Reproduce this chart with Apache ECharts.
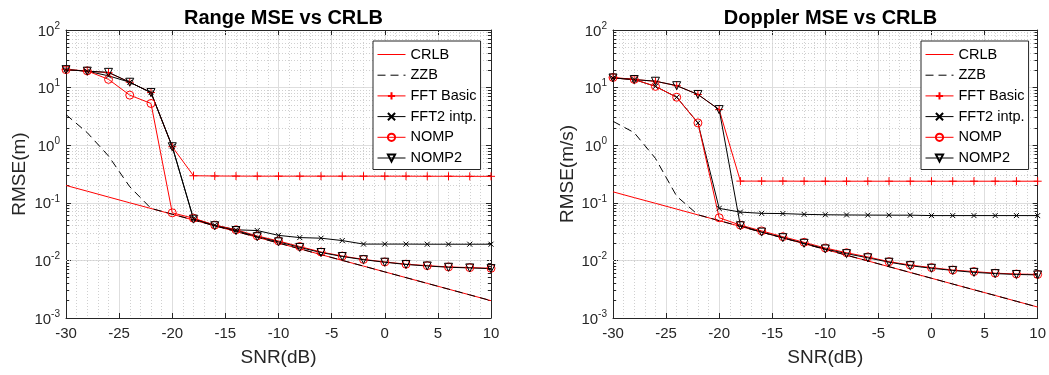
<!DOCTYPE html>
<html>
<head>
<meta charset="utf-8">
<script src="https://cdn.jsdelivr.net/npm/echarts@6/dist/echarts.min.js"></script>
<style>html,body{margin:0;padding:0;background:#fff}#c{width:1049px;height:375px}</style>
</head>
<body>
<div id="c"></div>
<script>
// ---------- data ----------
const snr = [-30,-28,-26,-24,-22,-20,-18,-16,-14,-12,-10,-8,-6,-4,-2,0,2,4,6,8,10];
const seriesNames = ['CRLB','ZZB','FFT Basic','FFT2 intp.','NOMP','NOMP2'];
const titles = ['Range MSE vs CRLB','Doppler MSE vs CRLB'];
const yNames = ['RMSE(m)','RMSE(m/s)'];
const xName = 'SNR(dB)';
const xTicks = [-30,-25,-20,-15,-10,-5,0,5,10];
const yTickExp = [-3,-2,-1,0,1,2];
const yMinorGrid = [0.002,0.003,0.004,0.005,0.006,0.007,0.008,0.009,
  0.02,0.03,0.04,0.05,0.06,0.07,0.08,0.09,
  0.2,0.3,0.4,0.5,0.6,0.7,0.8,0.9,
  2,3,4,5,6,7,8,9,
  20,30,40,50,60,70,80,90];

// Range (m)
const rangeCRLB  = [0.2,0.159,0.126,0.1,0.0796,0.0632,0.0502,0.0399,0.0317,0.0252,0.02,0.0159,0.0126,0.01,0.00796,0.00632,0.00502,0.00399,0.00317,0.00252,0.002];
const rangeZZB   = [3.4,1.65,0.65,0.19,0.08,0.0635,0.0503,0.04,0.0318,0.0252,0.02,0.0159,0.0126,0.01,0.00796,0.00632,0.00502,0.00399,0.00317,0.00252,0.002];
const rangeFFT   = [20.5,19.3,18.2,12.4,8.2,0.94,0.295,0.292,0.291,0.29,0.29,0.29,0.29,0.29,0.29,0.29,0.29,0.289,0.289,0.288,0.288];
const rangeFFT2  = [20.5,19.3,16,12.4,8.2,0.95,0.053,0.041,0.034,0.033,0.0272,0.0249,0.0243,0.0221,0.0192,0.0192,0.0192,0.0191,0.0191,0.0191,0.0191];
const rangeNOMP  = [20.5,19.5,13.9,7.4,5.3,0.067,0.054,0.041,0.034,0.0266,0.0217,0.0174,0.014,0.0119,0.0104,0.0094,0.0086,0.0081,0.0077,0.0075,0.0073];
const rangeNOMP2 = [20.5,19.3,18.4,12.4,8.2,0.94,0.052,0.040,0.033,0.0258,0.021,0.0168,0.0137,0.0117,0.0103,0.0093,0.0085,0.008,0.0076,0.0074,0.0072];

// Doppler (m/s)
const dopCRLB  = [0.155,0.123,0.098,0.0777,0.0617,0.049,0.0389,0.0309,0.0246,0.0195,0.0155,0.0123,0.0098,0.00777,0.00617,0.0049,0.00389,0.00309,0.00246,0.00195,0.00155];
const dopZZB   = [2.6,1.65,0.59,0.13,0.062,0.049,0.0389,0.0309,0.0246,0.0195,0.0155,0.0123,0.0098,0.00777,0.00617,0.0049,0.00389,0.00309,0.00246,0.00195,0.00155];
const dopFFT   = [14.7,13.8,12.9,10.8,7.6,4.15,0.238,0.238,0.238,0.237,0.237,0.237,0.237,0.237,0.237,0.237,0.237,0.237,0.237,0.237,0.237];
const dopFFT2  = [14.7,13.8,10.5,6.8,2.44,0.08,0.069,0.0656,0.065,0.063,0.062,0.0615,0.0612,0.061,0.061,0.06,0.06,0.06,0.06,0.06,0.06];
const dopNOMP  = [15,13.9,10.5,6.8,2.44,0.055,0.041,0.0325,0.0258,0.0206,0.0164,0.0136,0.0115,0.0095,0.0083,0.0075,0.0068,0.0064,0.006,0.0058,0.0057];
const dopNOMP2 = [14.7,13.8,12.9,10.8,7.6,4.15,0.040,0.031,0.0248,0.0198,0.0158,0.0131,0.0111,0.0093,0.0081,0.0073,0.0067,0.0062,0.0059,0.0057,0.0056];

// ---------- styling ----------
const FONT = '"Liberation Sans", Arial, Helvetica, sans-serif';
const AX = '#262626';
const RED = '#ff0000';
const BLK = '#000000';
const grids = [{left:66, top:30, width:425, height:288},{left:613, top:30, width:425, height:288}];
const legendPos = [{left:373, top:41},{left:921, top:41}];
const yNameGap = [37, 35.5];

const pair = (ys) => snr.map((x,i)=>[x, ys[i]]);

const option = {
  animation: false,
  backgroundColor: '#fff',
  textStyle: {fontFamily: FONT},
  title: [], grid: grids, xAxis: [], yAxis: [], legend: [], series: []
};

const markerPlus = 'path://M5,0L5,10M0,5L10,5';
const markerX = 'path://M0,0L10,10M10,0L0,10';

[0,1].forEach(g => {
  option.title.push({
    text: titles[g], left: grids[g].left + grids[g].width/2, top: 3, textAlign: 'center',
    textStyle: {fontFamily: FONT, fontSize: 20, fontWeight: 'bold', color: '#000'}
  });
  const xBase = {
    type: 'value', min: -30, max: 10, interval: 5, gridIndex: g,
    axisLine: {show: true, onZero: false, lineStyle: {color: AX, width: 1}},
    axisTick: {show: true, inside: true, length: 5, lineStyle: {color: AX}},
    minorTick: {show: false, splitNumber: 5},
  };
  option.xAxis.push(Object.assign({}, xBase, {
    position: 'bottom',
    name: xName, nameLocation: 'middle', nameGap: 30,
    nameTextStyle: {fontFamily: FONT, fontSize: 19, color: AX},
    axisLabel: {margin: 8, fontFamily: FONT, fontSize: 15, color: AX},
    splitLine: {show: true, lineStyle: {color: '#dedede', width: 1}},
    minorSplitLine: {show: true, lineStyle: {color: '#d0d0d0', width: 1, type: [1,2]}},
  }));
  option.xAxis.push(Object.assign({}, xBase, {
    position: 'top', axisLabel: {show: false}, splitLine: {show: false}
  }));
  const yBase = {
    type: 'log', logBase: 10, min: 0.001, max: 100, gridIndex: g,
    axisLine: {show: true, onZero: false, lineStyle: {color: AX, width: 1}},
    axisTick: {show: true, inside: true, length: 5, lineStyle: {color: AX}},
  };
  option.yAxis.push(Object.assign({}, yBase, {
    position: 'left',
    name: yNames[g], nameLocation: 'middle', nameGap: yNameGap[g],
    nameTextStyle: {fontFamily: FONT, fontSize: 19, color: AX},
    axisLabel: {
      margin: 6, fontFamily: FONT, color: AX,
      formatter: v => {
        const e = Math.round(Math.log10(v));
        return '{b|10}{s|' + e + '}';
      },
      rich: {
        b: {fontFamily: FONT, fontSize: 15, color: AX, verticalAlign: 'bottom', lineHeight: 18, padding: [6,0,0,0]},
        s: {fontFamily: FONT, fontSize: 10, color: AX, verticalAlign: 'top', lineHeight: 10}
      }
    },
    splitLine: {show: true, lineStyle: {color: '#dedede', width: 1}},
  }));
  option.yAxis.push(Object.assign({}, yBase, {
    position: 'right', axisLabel: {show: false}, splitLine: {show: false}
  }));

  const xi = g*2, yi = g*2;
  // minor grid + minor ticks (library-scaled from tick value arrays)
  const mlData = yMinorGrid.map(v => ({yAxis: v}));
  const mtData = [];
  yMinorGrid.forEach(v => {
    mtData.push([{coord:[-30, v]},{coord:[-29.7, v]}]);
    mtData.push([{coord:[9.7, v]},{coord:[10, v]}]);
  });
  option.series.push({
    type: 'line', name: '_grid' + g, xAxisIndex: xi, yAxisIndex: yi, data: [], z: 1, silent: true,
    markLine: {z: 1, silent: true, symbol: 'none', animation: false, label: {show: false},
      lineStyle: {color: '#d0d0d0', width: 1, type: [1,2]}, emphasis: {disabled: true}, data: mlData}
  });
  option.series.push({
    type: 'line', name: '_ticks' + g, xAxisIndex: xi, yAxisIndex: yi, data: [], z: 1, silent: true,
    markLine: {z: 1, silent: true, symbol: 'none', animation: false, label: {show: false},
      lineStyle: {color: AX, width: 1, type: 'solid'}, emphasis: {disabled: true}, data: mtData}
  });

  const d = g === 0
    ? [rangeCRLB, rangeZZB, rangeFFT, rangeFFT2, rangeNOMP, rangeNOMP2]
    : [dopCRLB, dopZZB, dopFFT, dopFFT2, dopNOMP, dopNOMP2];
  const base = {type: 'line', xAxisIndex: xi, yAxisIndex: yi, z: 2, silent: true, emphasis: {disabled: true}};
  option.series.push(Object.assign({}, base, {
    name: 'CRLB', data: pair(d[0]), showSymbol: false, symbol: 'circle', symbolSize: 1,
    lineStyle: {color: RED, width: 1}, itemStyle: {color: 'rgba(0,0,0,0)', borderColor: 'rgba(0,0,0,0)', borderWidth: 0}
  }));
  option.series.push(Object.assign({}, base, {
    name: 'ZZB', data: pair(d[1]), showSymbol: false, symbol: 'circle', symbolSize: 1,
    lineStyle: {color: BLK, width: 1, type: [8,5]}, itemStyle: {color: 'rgba(0,0,0,0)', borderColor: 'rgba(0,0,0,0)', borderWidth: 0}
  }));
  option.series.push(Object.assign({}, base, {
    name: 'FFT Basic', data: pair(d[2]), symbol: markerPlus, symbolSize: 8,
    lineStyle: {color: RED, width: 1}, itemStyle: {color: RED, borderColor: RED, borderWidth: 1}
  }));
  option.series.push(Object.assign({}, base, {
    name: 'FFT2 intp.', data: pair(d[3]), symbol: markerX, symbolSize: 5,
    lineStyle: {color: BLK, width: 1}, itemStyle: {color: BLK, borderColor: BLK, borderWidth: 1}
  }));
  option.series.push(Object.assign({}, base, {
    name: 'NOMP', data: pair(d[4]), symbol: 'circle', symbolSize: 8,
    lineStyle: {color: RED, width: 1}, itemStyle: {color: 'rgba(0,0,0,0)', borderColor: RED, borderWidth: 1}
  }));
  option.series.push(Object.assign({}, base, {
    name: 'NOMP2', data: pair(d[5]), symbol: 'triangle', symbolRotate: 180, symbolSize: 8,
    lineStyle: {color: BLK, width: 1}, itemStyle: {color: 'rgba(0,0,0,0)', borderColor: BLK, borderWidth: 1}
  }));

  option.legend.push({
    show: true, orient: 'vertical', left: legendPos[g].left, top: legendPos[g].top,
    data: seriesNames, selectedMode: false,
    itemWidth: 28, itemHeight: 9, itemGap: 5.7, padding: [6, 4, 4, 4],
    borderColor: AX, borderWidth: 1, backgroundColor: '#fff',
    lineStyle: {width: 1},
    textStyle: {fontFamily: FONT, fontSize: 14.5, color: '#000', lineHeight: 14}
  });
});

const chart = echarts.init(document.getElementById('c'), null, {renderer: 'canvas'});
chart.setOption(option);
</script>
</body>
</html>
